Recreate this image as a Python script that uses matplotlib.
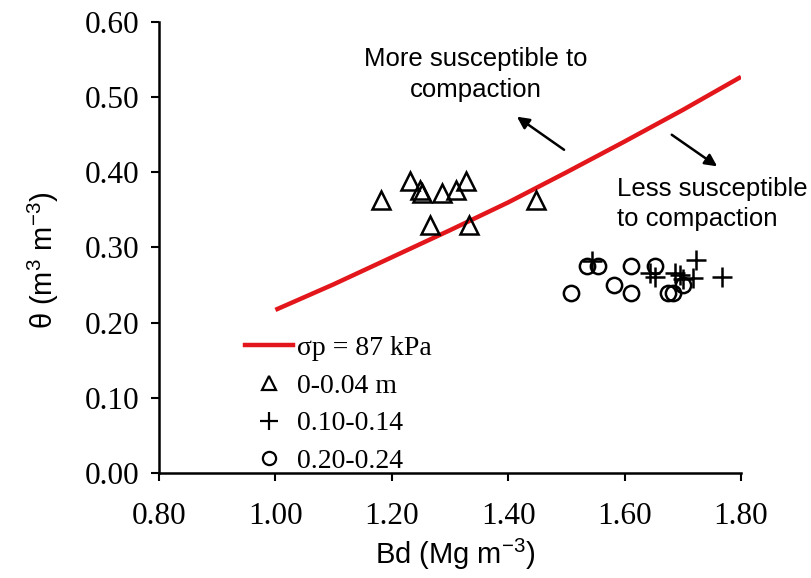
import matplotlib
matplotlib.use("Agg")
import matplotlib.pyplot as plt
from matplotlib.lines import Line2D

plt.rcParams['mathtext.fontset'] = 'custom'
plt.rcParams['mathtext.rm'] = 'Liberation Sans'
plt.rcParams['mathtext.it'] = 'Liberation Sans:italic'

# Threshold curve (sigma_p = 87 kPa)
curve_bd = [1.00, 1.10, 1.20, 1.30, 1.40, 1.50, 1.60, 1.70, 1.80]
curve_theta = [0.217, 0.251, 0.287, 0.323, 0.360, 0.400, 0.441, 0.483, 0.527]

# 0-0.04 m layer
tri_bd = [1.181, 1.231, 1.248, 1.252, 1.286, 1.310, 1.327, 1.265, 1.332, 1.448]
tri_theta = [0.363, 0.389, 0.376, 0.372, 0.372, 0.376, 0.389, 0.330, 0.330, 0.363]

# 0.10-0.14 m layer
plus_bd = [1.544, 1.643, 1.653, 1.687, 1.695, 1.718, 1.722, 1.768, 1.700]
plus_theta = [0.282, 0.266, 0.261, 0.266, 0.263, 0.259, 0.283, 0.261, 0.258]

# 0.20-0.24 m layer
circ_bd = [1.508, 1.536, 1.555, 1.582, 1.611, 1.611, 1.652, 1.675, 1.683, 1.701]
circ_theta = [0.240, 0.276, 0.276, 0.250, 0.276, 0.240, 0.276, 0.240, 0.240, 0.250]

legend_labels = ["σp = 87 kPa", "0-0.04 m", "0.10-0.14", "0.20-0.24"]
xticks = [0.80, 1.00, 1.20, 1.40, 1.60, 1.80]
yticks = [0.00, 0.10, 0.20, 0.30, 0.40, 0.50, 0.60]

fig = plt.figure(figsize=(8.11, 5.78), dpi=100)
ax = fig.add_axes([159/811, 1 - 473/578, (741-159)/811, (473-22)/578])

ax.plot(curve_bd, curve_theta, color='#e3161b', lw=3.2, solid_capstyle='butt', zorder=3)
ax.plot(tri_bd, tri_theta, ls='none', marker='^', ms=12.5, mfc='none', mec='black', mew=1.8, zorder=4)
ax.plot(plus_bd, plus_theta, ls='none', marker='+', ms=15, mec='black', mew=1.8, zorder=4)
ax.plot(circ_bd, circ_theta, ls='none', marker='o', ms=11, mfc='none', mec='black', mew=1.8, zorder=4)

ax.set_xlim(0.80, 1.80)
ax.set_ylim(0.0, 0.60)
ax.set_xticks(xticks)
ax.set_yticks(yticks)
ax.set_xticklabels([f"{v:.2f}" for v in xticks], fontfamily='Liberation Serif', fontsize=22.5)
ax.set_yticklabels([f"{v:.2f}" for v in yticks], fontfamily='Liberation Serif', fontsize=22.5)
ax.tick_params(axis='both', direction='out', length=6, width=1.5)
ax.tick_params(axis='y', pad=8)
ax.tick_params(axis='x', pad=15)
for s in ['top', 'right']:
    ax.spines[s].set_visible(False)
for s in ['left', 'bottom']:
    ax.spines[s].set_linewidth(1.8)

ax.set_xlabel(r"Bd (Mg m$^{-3}$)", fontfamily='Liberation Sans', fontsize=21)
ax.set_ylabel(r"θ (m$^{3}$ m$^{-3}$)", fontfamily='Liberation Sans', fontsize=21)
ax.xaxis.set_label_coords((455 - 159) / 582, (473 - 537) / 451)
ax.yaxis.set_label_coords((61 - 159) / 582, (473 - 260) / 451)

ax.text(1.345, 0.530, "More susceptible to\ncompaction", ha='center', va='center',
        fontfamily='Liberation Sans', fontsize=18.5, linespacing=1.38)
ax.text(1.587, 0.358, "Less susceptible\nto compaction", ha='left', va='center',
        fontfamily='Liberation Sans', fontsize=18.5, linespacing=1.3, clip_on=False)
ax.annotate("", xy=(1.415, 0.474), xytext=(1.496, 0.430),
            arrowprops=dict(arrowstyle='-|>', color='black', lw=1.8, mutation_scale=18, shrinkA=0, shrinkB=0))
ax.annotate("", xy=(1.759, 0.408), xytext=(1.681, 0.450),
            arrowprops=dict(arrowstyle='-|>', color='black', lw=1.8, mutation_scale=18, shrinkA=0, shrinkB=0))

handles = [
    Line2D([], [], color='#e3161b', lw=3.2),
    Line2D([], [], ls='none', marker='^', ms=10.5, mfc='none', mec='black', mew=1.6),
    Line2D([], [], ls='none', marker='+', ms=13.5, mec='black', mew=1.6),
    Line2D([], [], ls='none', marker='o', ms=9.5, mfc='none', mec='black', mew=1.6),
]
leg = ax.legend(handles, legend_labels, loc='upper left', bbox_to_anchor=(239/811, 1 - 330/578),
                bbox_transform=fig.transFigure, frameon=False, handlelength=1.75, handletextpad=0.15,
                labelspacing=0.44, borderpad=0.2, borderaxespad=0,
                prop={'family': 'Liberation Serif', 'size': 20})

fig.savefig("out.png", dpi=100)
